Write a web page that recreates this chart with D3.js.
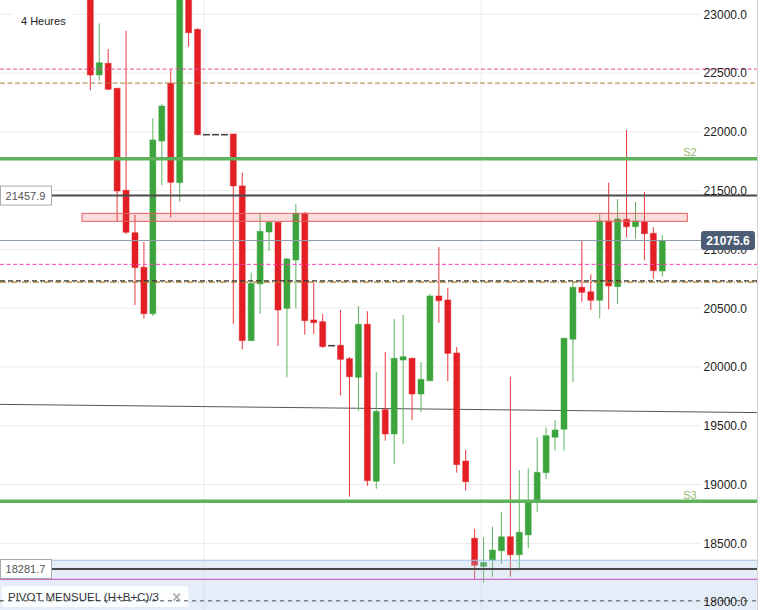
<!DOCTYPE html>
<html><head><meta charset="utf-8">
<script src="https://cdn.jsdelivr.net/npm/d3@7"></script>
<style>body{margin:0;background:#fff}svg{display:block;font-family:"Liberation Sans",Arial,sans-serif}</style>
</head><body><svg id="c" width="761" height="610"></svg>
<script>
// ---------- DATA ----------
const candleIndex = d3.range(65);
const openV  = [23250,22484,22583,22371,21503,21142,20848,20453,21922,22413,21568,23200,22872,21976,21976,21976,21982,21540,20224,20707,21148,21231,20499,20910,21307,20400,20385,20181,20184,20071,19912,20363,19028,19637,19430,20059,20074,19770,19883,20604,20570,20119,19200,18543,18304,18357,18437,18556,18403,18571,18863,19101,19402,19470,20236,20678,20640,20567,21242,20683,21256,21193,21233,21137,20816];
const highV  = [23300,22923,22705,22371,22858,21293,21063,22115,22237,22526,23250,23250,22880,21976,21976,21976,21982,21653,20802,21307,21235,21235,20930,21386,21318,20717,20451,20181,20485,20085,20519,20474,19955,20128,20408,20442,20080,20042,20621,21021,20674,20170,19294,18622,18551,18642,18769,19917,19124,19138,19399,19487,19549,20250,20720,21074,20788,21299,21568,21429,22016,21403,21488,21188,21120];
const lowV   = [22354,22435,22356,21242,21130,20527,20411,20434,21545,21270,21406,22724,21970,21976,21976,21976,20366,20150,20220,20451,20987,20179,19912,20499,20275,20281,20162,20181,19759,18897,19628,18988,18965,19373,19175,19342,19549,19617,19880,20377,19880,19101,18948,18193,18163,18216,18325,18216,18269,18458,18769,19047,19288,19288,19872,20555,20485,20414,20491,20536,21100,21091,20910,20751,20768];
const closeV = [22484,22588,22362,21497,21146,20845,20453,21931,22220,21571,23200,22843,21976,21976,21976,21976,21540,20224,20712,21154,21231,20485,20919,21307,20394,20377,20173,20181,20065,19917,20363,19033,19623,19430,20074,20088,19770,19895,20604,20564,20116,19169,19024,18313,18336,18443,18556,18403,18594,18863,19104,19416,19464,20244,20678,20635,20567,21242,20689,21259,21193,21242,21134,20819,21075.6];

const priceTicks = [18000,18500,19000,19500,20000,20500,21000,21500,22000,22500,23000];
const tickLabels = ["18000.0","18500.0","19000.0","19500.0","20000.0","20500.0","21000.0","21500.0","22000.0","22500.0","23000.0"];
const verticalGridIdx = [12.72, 43.72];

const levelNames  = ["pinkHigh","brownHigh","S2","mark1","last","pinkLow","blackLow","S3","mark2","magenta","dashLow"];
const levelValues = [22534, 22415, 21772, 21457.9, 21075.6, 20873, 20729, 18858, 18281.7, 18194, 18011];

const resistZonePrice = [21239, 21307];
const resistZoneIdx = [-0.93, 66.8];
const supportZonePrice = [17900, 18356];
const trendIdx = [-10.1, 74.6];
const trendPrice = [19682, 19612];

const timeframeLabel = "4 Heures";
const indicatorLabel = "PIVOT MENSUEL (H+B+C)/3";

// ---------- DRAW ----------
const svg = d3.select("#c");
const x = d3.scaleLinear().domain([0,64]).range([90.3,662.3]);
const y = d3.scaleLinear().domain([18000,23000]).range([602.1,14.3]);
const W = 757;

svg.append("defs").append("clipPath").attr("id","clip")
  .append("rect").attr("x",0).attr("y",0).attr("width",W).attr("height",610);
const g = svg.append("g").attr("clip-path","url(#clip)");

// grid
g.selectAll(".hg").data(priceTicks).join("line")
  .attr("x1",0).attr("x2",701).attr("y1",d=>y(d)).attr("y2",d=>y(d))
  .attr("stroke","#ebebeb").attr("stroke-width",1);
g.selectAll(".vg").data(verticalGridIdx).join("line")
  .attr("x1",d=>x(d)).attr("x2",d=>x(d)).attr("y1",0).attr("y2",610)
  .attr("stroke","#ebebeb").attr("stroke-width",1);

// trendline
g.append("line")
  .attr("x1",x(trendIdx[0])).attr("y1",y(trendPrice[0]))
  .attr("x2",x(trendIdx[1])).attr("y2",y(trendPrice[1]))
  .attr("stroke","#555").attr("stroke-width",1);

// candles
const RED="#e31e24", GREEN="#3ca43c";
const cg = g.append("g");
candleIndex.forEach(i=>{
  const o=openV[i],h=highV[i],l=lowV[i],c=closeV[i];
  const cx=x(i);
  if (o===c && h===l) {
    cg.append("line").attr("x1",cx-3.5).attr("x2",cx+3.5).attr("y1",y(c)).attr("y2",y(c))
      .attr("stroke","#444").attr("stroke-width",1.6);
    return;
  }
  const up = c>=o;
  const col = up?GREEN:RED;
  cg.append("line").attr("x1",cx).attr("x2",cx).attr("y1",y(h)).attr("y2",y(l))
    .attr("stroke",up?"#5db45d":"#e8383d").attr("stroke-width",1);
  const top=y(Math.max(o,c)), bot=y(Math.min(o,c));
  cg.append("rect").attr("x",cx-3).attr("width",6)
    .attr("y",top).attr("height",Math.max(bot-top,1.5))
    .attr("fill",col).attr("stroke",up?"rgba(60,164,60,0.45)":"rgba(227,30,36,0.45)").attr("stroke-width",1);
});

// zones
g.append("rect").attr("x",0).attr("width",W)
  .attr("y",y(supportZonePrice[1])).attr("height",y(supportZonePrice[0])-y(supportZonePrice[1]))
  .attr("fill","rgba(160,195,230,0.28)");
g.append("line").attr("x1",0).attr("x2",W).attr("y1",y(supportZonePrice[1])).attr("y2",y(supportZonePrice[1]))
  .attr("stroke","#9fc3e7").attr("stroke-width",1);
g.append("rect").attr("x",x(resistZoneIdx[0])).attr("width",x(resistZoneIdx[1])-x(resistZoneIdx[0]))
  .attr("y",y(resistZonePrice[1])).attr("height",y(resistZonePrice[0])-y(resistZonePrice[1]))
  .attr("fill","rgba(230,80,80,0.2)").attr("stroke","#e06060").attr("stroke-width",1);

// level lines
const styles = {
  pinkHigh:{c:"#e8449a",w:1,d:"4,2.5",x0:0,x1:W},
  brownHigh:{c:"#a97c3c",w:1,d:"5,2.5",x0:0,x1:W},
  S2:{c:"#5cb35c",w:3.5,d:null,x0:0,x1:W},
  mark1:{c:"#4a4a4a",w:2,d:null,x0:51,x1:W},
  last:{c:"#8d9aab",w:1,d:null,x0:0,x1:701},
  pinkLow:{c:"#ff3cbc",w:1,d:"4,2.5",x0:0,x1:W},
  S3:{c:"#5cb35c",w:3.5,d:null,x0:0,x1:W},
  mark2:{c:"#4a4a4a",w:2,d:null,x0:51,x1:W},
  magenta:{c:"#c646c0",w:1,d:null,x0:0,x1:W},
  dashLow:{c:"#555",w:1,d:"4,4",x0:0,x1:W}
};
const labelsG = svg.append("g");
levelNames.forEach((n,k)=>{
  const v=levelValues[k], yy=y(v);
  if (n==="blackLow") {
    g.append("line").attr("x1",0).attr("x2",W).attr("y1",yy+0.8).attr("y2",yy+0.8)
      .attr("stroke","#b07a20").attr("stroke-width",1.2).attr("stroke-dasharray","6,2,1,2");
    g.append("line").attr("x1",0).attr("x2",W).attr("y1",yy-0.4).attr("y2",yy-0.4)
      .attr("stroke","#333").attr("stroke-width",1.2).attr("stroke-dasharray","5,3");
    return;
  }
  const s=styles[n];
  const ln = g.append("line").attr("x1",s.x0).attr("x2",s.x1).attr("y1",yy).attr("y2",yy)
    .attr("stroke",s.c).attr("stroke-width",s.w);
  if (s.d) ln.attr("stroke-dasharray",s.d);
});

// S labels
[["S2",2],["S3",7]].forEach(([t,k])=>{
  svg.append("text").attr("x",690).attr("y",y(levelValues[k])-2.5).attr("text-anchor","middle")
    .attr("font-size",11).attr("fill","#95b86c").text(t);
});

// right axis
const ax = svg.append("g").attr("transform","translate(747,0)")
  .call(d3.axisRight(y).tickValues(priceTicks).tickFormat((d,i)=>tickLabels[i]).tickSize(0).tickPadding(0));
ax.select(".domain").remove();
ax.selectAll("text").attr("text-anchor","end").attr("font-size",12).attr("fill","#222")
  .attr("font-family","'Liberation Sans',Arial,sans-serif");

// last price badge
const lastY = y(levelValues[4]);
svg.append("rect").attr("x",701).attr("y",lastY-9.5).attr("width",54).attr("height",19).attr("rx",3)
  .attr("fill","#4b5c74");
svg.append("text").attr("x",728).attr("y",lastY+4.3).attr("text-anchor","middle")
  .attr("font-size",12).attr("font-weight","bold").attr("fill","#fff").text(levelValues[4].toFixed(1));

// left value boxes
[3,8].forEach(k=>{
  const yy=y(levelValues[k]);
  svg.append("rect").attr("x",0.5).attr("y",yy-9.5).attr("width",51).attr("height",19)
    .attr("fill","#fff").attr("stroke","#aaa").attr("stroke-width",1);
  svg.append("text").attr("x",25.5).attr("y",yy+4).attr("text-anchor","middle")
    .attr("font-size",11).attr("fill","#555").text(levelValues[k].toFixed(1));
});

// right panel edge
svg.append("line").attr("x1",757.5).attr("x2",757.5).attr("y1",0).attr("y2",610)
  .attr("stroke","#d3d3d3").attr("stroke-width",1);

// timeframe label
svg.append("rect").attr("x",13).attr("y",8).attr("width",61).attr("height",20).attr("fill","#fff");
svg.append("text").attr("x",21).attr("y",25).attr("font-size",11).attr("fill","#222").text(timeframeLabel);

// indicator label
svg.append("rect").attr("x",1.5).attr("y",586).attr("width",187).attr("height",21).attr("rx",3)
  .attr("fill","rgba(255,255,255,0.85)");
svg.append("line").attr("x1",0).attr("x2",189).attr("y1",y(levelValues[10])).attr("y2",y(levelValues[10]))
  .attr("stroke","#555").attr("stroke-width",1).attr("stroke-dasharray","4,4");
svg.append("text").attr("x",8).attr("y",600.5).attr("font-size",11.5).attr("fill","#333")
  .attr("xml:space","preserve").text(indicatorLabel);
svg.append("path").attr("d","M173.5,593.5L180,600.5M180,593.5L173.5,600.5")
  .attr("stroke","#aaa").attr("stroke-width",1.8);
</script></body></html>
